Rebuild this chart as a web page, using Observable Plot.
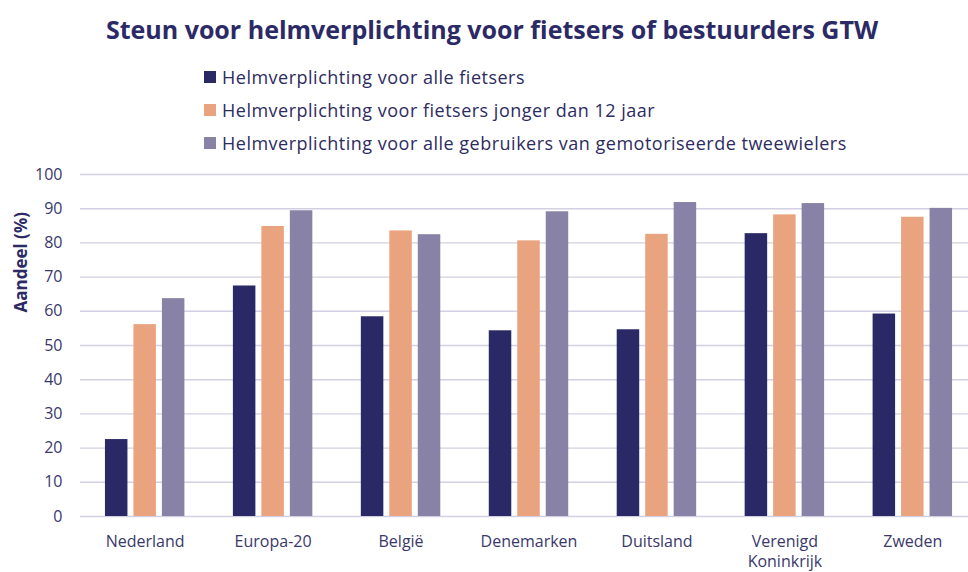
<!DOCTYPE html>
<html>
<head>
<meta charset="utf-8">
<script src="https://cdn.jsdelivr.net/npm/d3@7"></script>
<script src="https://cdn.jsdelivr.net/npm/@observablehq/plot@0.6"></script>
<style>
  html, body { margin: 0; padding: 0; background: #fff; width: 968px; height: 572px; overflow: hidden; }
  body { position: relative; font-family: "Open Sans", sans-serif; }
  #title { position: absolute; left: 8px; top: 11px; width: 968px; text-align: center; font-weight: 700; font-size: 25px; line-height: 36px; color: #2b2a66; white-space: nowrap; }
  #legend { position: absolute; left: 204px; top: 60px; }
  .item { display: flex; align-items: center; height: 33px; font-size: 18px; letter-spacing: 0.5px; color: #2d2b5f; white-space: nowrap; }
  .sw { width: 12px; height: 12px; margin-right: 6px; }
  #chart { position: absolute; left: 0; top: 160px; }
</style>
</head>
<body>
<div id="title">Steun voor helmverplichting voor fietsers of bestuurders GTW</div>
<div id="legend"></div>
<div id="chart"></div>
<script>
const categories = ["Nederland", "Europa-20", "België", "Denemarken", "Duitsland", "Verenigd\nKoninkrijk", "Zweden"];
const series = [
  "Helmverplichting voor alle fietsers",
  "Helmverplichting voor fietsers jonger dan 12 jaar",
  "Helmverplichting voor alle gebruikers van gemotoriseerde tweewielers"
];
const colors = ["#2a2966", "#e9a47f", "#8883a6"];
const alleFietsers = [22.5, 67.4, 58.4, 54.3, 54.6, 82.7, 59.2];
const jongerDan12 = [56.1, 84.8, 83.5, 80.6, 82.5, 88.2, 87.5];
const gemotoriseerd = [63.7, 89.4, 82.4, 89.1, 91.8, 91.5, 90.1];
const yTicks = [0, 10, 20, 30, 40, 50, 60, 70, 80, 90, 100];
const yLabel = "Aandeel (%)";

const valuesBySeries = [alleFietsers, jongerDan12, gemotoriseerd];

// legend
const legend = document.getElementById("legend");
series.forEach((s, j) => {
  const it = document.createElement("div");
  it.className = "item";
  const sw = document.createElement("span");
  sw.className = "sw";
  sw.style.background = colors[j];
  it.appendChild(sw);
  it.appendChild(document.createTextNode(s));
  legend.appendChild(it);
});

const W = 968, marginLeft = 80, marginRight = -9;
const padInner = 0.379, padOuter = 0.195;
// group band width, to split each category band into three sub-bands
const groupScale = d3.scaleBand().domain(categories).range([marginLeft, W - marginRight]).paddingInner(padInner).paddingOuter(padOuter);
const bw = groupScale.bandwidth();
const sub = d3.scaleBand().domain(series).range([0, bw]).paddingInner(0.21).paddingOuter(0);

const barMarks = series.map((s, j) => Plot.barY(
  categories.map((c, i) => ({category: c, series: s, value: valuesBySeries[j][i]})),
  {x: "category", y: "value", fill: "series",
   insetLeft: sub(s), insetRight: bw - sub(s) - sub.bandwidth()}
));

const chart = Plot.plot({
  width: W,
  height: 412,
  marginTop: 14,
  marginBottom: 56,
  marginLeft,
  marginRight,
  style: {fontFamily: "Open Sans, sans-serif", fontSize: "16px", color: "#3a386b", background: "transparent", overflow: "visible"},
  x: {domain: categories, paddingInner: padInner, paddingOuter: padOuter, round: false, label: null},
  y: {domain: [0, 100], ticks: yTicks, label: null},
  color: {domain: series, range: colors},
  marks: [
    Plot.ruleY(yTicks, {stroke: "#d2d0e2", strokeWidth: 1.4}),
    Plot.axisY(yTicks, {tickSize: 0, tickPadding: 18, fontSize: 16, fill: "#3a386b", label: null}),
    Plot.axisX({tickSize: 0, tickPadding: 16, fontSize: 16, fill: "#3a386b", label: null, lineHeight: 1.25}),
    ...barMarks,
    Plot.text([yLabel], {frameAnchor: "left", text: d => d, rotate: -90, dx: -59, dy: -33, fontSize: 17, fontWeight: "bold", fill: "#2b2a66"})
  ]
});
document.getElementById("chart").appendChild(chart);
</script>
</body>
</html>
